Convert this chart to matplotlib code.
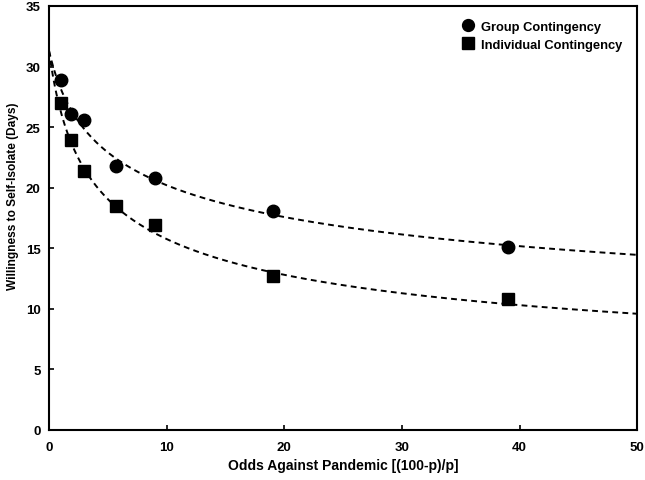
import numpy as np
import matplotlib
matplotlib.use('Agg')
import matplotlib.pyplot as plt

plt.rcParams['font.family'] = ['Liberation Sans', 'DejaVu Sans']
plt.rcParams['font.weight'] = 'bold'

# odds against pandemic, (100-p)/p
odds = [1, 1.857, 3, 5.667, 9, 19, 39]
group_days = [28.9, 26.1, 25.6, 21.8, 20.8, 18.1, 15.1]
individual_days = [27.0, 23.9, 21.4, 18.5, 16.9, 12.7, 10.8]

# hyperboloid fit V = A / (1 + k x)^s, parameters
group_fit = {'A': 31.3, 'k': 0.6, 's': 0.225}
individual_fit = {'A': 31.3, 'k': 0.7, 's': 0.33}


def hyperboloid(x, A, k, s):
    return A / (1 + k * x) ** s


fig = plt.figure(figsize=(6.45, 4.81), dpi=100)
ax = fig.add_axes([0.076, 0.104, 0.912, 0.8815])

xs = np.linspace(0, 50, 400)
ax.plot(xs, hyperboloid(xs, **group_fit), color='black', lw=1.4, dashes=(3, 2.2))
ax.plot(xs, hyperboloid(xs, **individual_fit), color='black', lw=1.4, dashes=(3, 2.2))

ax.plot(odds, group_days, 'o', color='black', markersize=9, label='Group Contingency')
ax.plot(odds, individual_days, 's', color='black', markersize=9, label='Individual Contingency')

ax.set_xlim(0, 50)
ax.set_ylim(0, 35)
ax.set_xticks(range(0, 51, 10))
ax.set_yticks(range(0, 36, 5))
ax.tick_params(direction='in', length=3.5, width=1.2, labelsize=9.5)
ax.tick_params(axis='x', pad=8)
ax.tick_params(axis='y', pad=6)
for sp in ax.spines.values():
    sp.set_linewidth(1.5)

ax.set_xlabel('Odds Against Pandemic [(100-p)/p]', fontsize=10, fontweight='bold', labelpad=3.5)
ax.set_ylabel('Willingness to Self-Isolate (Days)', fontsize=8.6, fontweight='bold')
ax.yaxis.set_label_coords(-0.051, 0.554)

ax.legend(loc='upper right', frameon=False, fontsize=9.3, handletextpad=0.25,
          handlelength=1.6, borderaxespad=0.75, labelspacing=0.45, markerscale=0.95)

fig.savefig('out.png', dpi=100)
